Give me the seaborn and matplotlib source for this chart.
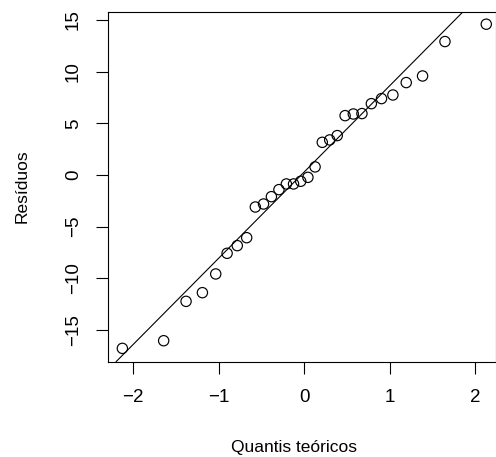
import numpy as np
import pandas as pd
import matplotlib
matplotlib.use("Agg")
import matplotlib.pyplot as plt
import seaborn as sns

# Theoretical normal quantiles (n = 30)
theoretical = [-2.128, -1.645, -1.383, -1.192, -1.036, -0.903, -0.784, -0.674,
               -0.573, -0.477, -0.385, -0.297, -0.210, -0.126, -0.042,
               0.042, 0.126, 0.210, 0.297, 0.385, 0.477, 0.573, 0.674,
               0.784, 0.903, 1.036, 1.192, 1.383, 1.645, 2.128]
# Sorted residuals
residuals = [-16.78, -16.04, -12.23, -11.39, -9.58, -7.58, -6.84, -6.07,
             -3.10, -2.81, -2.10, -1.42, -0.87, -0.87, -0.61,
             -0.23, 0.78, 3.16, 3.39, 3.81, 5.74, 5.90, 5.94,
             6.90, 7.39, 7.74, 8.94, 9.58, 12.91, 14.59]
xticks = [-2, -1, 0, 1, 2]
yticks = [-15, -10, -5, 0, 5, 10, 15]
xlabel = "Quantis teóricos"
ylabel = "Resíduos"

df = pd.DataFrame({"q": theoretical, "r": residuals})

sns.set_theme(style="white")
plt.rcParams["font.family"] = ["Liberation Sans", "DejaVu Sans"]
plt.rcParams["axes.unicode_minus"] = True

W, H = 496, 457
fig = plt.figure(figsize=(W / 100, H / 100), dpi=100)
left, right, top, bottom = 108, 495.5, 12, 361.7
ax = fig.add_axes([left / W, 1 - bottom / H, (right - left) / W, (bottom - top) / H])

sns.scatterplot(data=df, x="q", y="r", ax=ax, s=55, facecolor="none",
                edgecolor="black", linewidth=0.85, zorder=3)

# qqline through the quartiles
q1, q3 = np.quantile(residuals, [0.25, 0.75])
z1, z3 = -0.6744898, 0.6744898
slope = (q3 - q1) / (z3 - z1)
intercept = q1 - slope * z1
ax.axline((0, intercept), slope=slope, color="black", lw=0.8, zorder=2)

ax.set_xlim(-2.296, 2.236)
ax.set_ylim(-18.07, 15.77)
ax.set_xticks(xticks)
ax.set_yticks(yticks)
ax.set_xticklabels([f"{t}".replace("-", "\u2212") for t in xticks])
ax.set_yticklabels([f"{t}".replace("-", "\u2212") for t in yticks])

for sp in ax.spines.values():
    sp.set_color("black")
    sp.set_linewidth(0.8)
    sp.set_visible(True)

ax.tick_params(axis="both", which="major", direction="out", length=8.3,
               width=0.8, color="black", labelsize=13.5, labelcolor="black",
               left=True, bottom=True)
ax.tick_params(axis="x", pad=11)
ax.tick_params(axis="y", pad=10.5)
for lab in ax.get_yticklabels():
    lab.set_rotation(90)
    lab.set_va("center")
    lab.set_ha("right")

ax.set_xlabel(xlabel, fontsize=12.5, color="black")
ax.set_ylabel(ylabel, fontsize=12.5, color="black")
ax.xaxis.set_label_coords((294 - left) / (right - left), -(451.7 - bottom) / (bottom - top))
ax.xaxis.label.set_va("baseline")
ax.yaxis.set_label_coords(-(left - 27) / (right - left), 0.5 - (186 - (top + bottom) / 2) / (bottom - top))
ax.yaxis.label.set_va("baseline")

fig.savefig("out.png", dpi=100)
